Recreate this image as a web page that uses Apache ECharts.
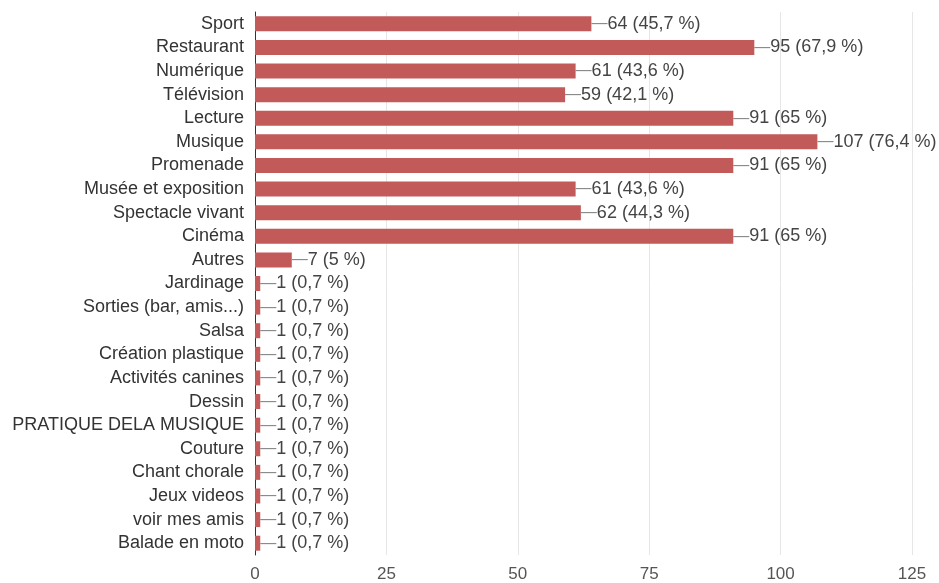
<!DOCTYPE html>
<html>
<head>
<meta charset="utf-8">
<script src="https://cdn.jsdelivr.net/npm/echarts@6/dist/echarts.min.js"></script>
<style>
  html, body { margin: 0; padding: 0; background: #fff; }
  #main { width: 939px; height: 583px; }
</style>
</head>
<body>
<div id="main"></div>
<script>
// catégories (de haut en bas)
var categories = ['Sport', 'Restaurant', 'Numérique', 'Télévision', 'Lecture', 'Musique', 'Promenade',
  'Musée et exposition', 'Spectacle vivant', 'Cinéma', 'Autres', 'Jardinage', 'Sorties (bar, amis...)',
  'Salsa', 'Création plastique', 'Activités canines', 'Dessin', 'PRATIQUE DELA MUSIQUE', 'Couture',
  'Chant chorale', 'Jeux videos', 'voir mes amis', 'Balade en moto'];
var counts = [64, 95, 61, 59, 91, 107, 91, 61, 62, 91, 7, 1, 1, 1, 1, 1, 1, 1, 1, 1, 1, 1, 1];
var percents = ['45,7', '67,9', '43,6', '42,1', '65', '76,4', '65', '43,6', '44,3', '65', '5',
  '0,7', '0,7', '0,7', '0,7', '0,7', '0,7', '0,7', '0,7', '0,7', '0,7', '0,7', '0,7'];
var xTicks = [0, 25, 50, 75, 100, 125];

var chart = echarts.init(document.getElementById('main'));
chart.setOption({
  animation: false,
  textStyle: { fontFamily: 'Liberation Sans, Arial, sans-serif' },
  grid: { left: 255, right: 27, top: 12, bottom: 28 },
  xAxis: {
    type: 'value',
    min: xTicks[0],
    max: xTicks[xTicks.length - 1],
    interval: 25,
    axisLine: { show: false },
    axisTick: { show: false },
    splitLine: { lineStyle: { color: '#e6e6e6' } },
    axisLabel: { color: '#555', fontSize: 17, margin: 11 }
  },
  yAxis: {
    type: 'category',
    inverse: true,
    data: categories,
    axisLine: { lineStyle: { color: '#333' } },
    axisTick: { show: false },
    axisLabel: { color: '#333', fontSize: 18, margin: 11 }
  },
  series: [{
    type: 'bar',
    data: counts,
    barWidth: 15,
    itemStyle: { color: '#c25a5a' },
    label: {
      show: true,
      position: 'right',
      distance: 0,
      fontSize: 18,
      color: '#444',
      formatter: function (p) {
        return '{ln|—}' + p.value + ' (' + percents[p.dataIndex] + ' %)';
      },
      rich: { ln: { color: '#888', fontSize: 16 } }
    }
  }]
});
</script>
</body>
</html>
